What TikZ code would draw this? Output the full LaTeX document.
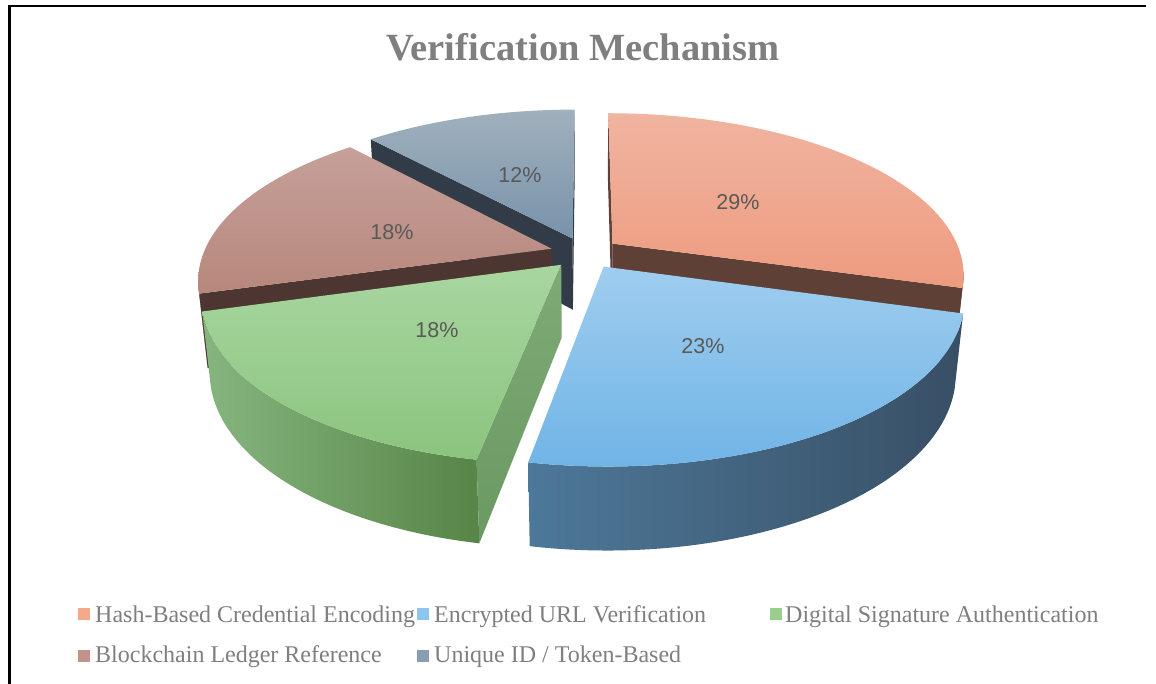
\documentclass[tikz,border=0pt]{standalone}
\usepackage{fontspec}
\setmainfont{Liberation Serif}
\newfontfamily\pctfont{Liberation Sans}
\usetikzlibrary{positioning}

\definecolor{titlegray}{HTML}{7F7F7F}
\definecolor{pctgray}{HTML}{595959}
\definecolor{orangetop}{HTML}{F0B4A0}
\definecolor{orangebot}{HTML}{EE9B7F}
\definecolor{orangeface}{HTML}{5F4036}
\definecolor{bluetop}{HTML}{9FCDEF}
\definecolor{bluebot}{HTML}{70B4E6}
\definecolor{blueleft}{HTML}{4D7899}
\definecolor{bluemid}{HTML}{34506A}
\definecolor{blueright}{HTML}{384F65}
\definecolor{greentop}{HTML}{A8D6A0}
\definecolor{greenbot}{HTML}{8BC47E}
\definecolor{greenleft}{HTML}{86B57F}
\definecolor{greenmid}{HTML}{6D9D63}
\definecolor{greenright}{HTML}{578547}
\definecolor{greenfacetop}{HTML}{7EAA76}
\definecolor{greenfacebot}{HTML}{6B9962}
\definecolor{browntop}{HTML}{C6A09A}
\definecolor{brownbot}{HTML}{B7877C}
\definecolor{brownface}{HTML}{4D3531}
\definecolor{greytop}{HTML}{A0B0BD}
\definecolor{greybot}{HTML}{7893AA}
\definecolor{greyface}{HTML}{313C48}
\definecolor{keyorange}{HTML}{F4A98C}
\definecolor{keyblue}{HTML}{8EC5EE}
\definecolor{keygreen}{HTML}{98CF8C}
\definecolor{keybrown}{HTML}{C3928A}
\definecolor{keygrey}{HTML}{8A9DB0}

\tikzset{
  pct/.style={font=\pctfont\fontsize{21.5}{24}\selectfont, text=pctgray},
  legtxt/.style={anchor=base west, inner sep=0pt, text=titlegray,
    font=\fontsize{24}{26}\selectfont},
  legbox/.style={minimum size=12pt, inner sep=0pt, draw=none}
}

% slice pieces: #1 = mid angle of the slice (explode direction)
\newcommand{\slicetop}[4]{%
  \path[#4] ({px(#1,0,0,0)},{py(#1,0,0,0)})
    -- plot[domain=#2:#3] ({px(#1,\x,1,0)},{py(#1,\x,1,0)}) -- cycle;}
\newcommand{\sliceside}[4]{%
  \path[#4] plot[domain=#2:#3] ({px(#1,\x,1,0)},{py(#1,\x,1,0)})
    -- plot[domain=#3:#2] ({px(#1,\x,1,-0.234)},{py(#1,\x,1,-0.234)}) -- cycle;}
\newcommand{\sliceface}[3]{%
  \path[#3] ({px(#1,0,0,0)},{py(#1,0,0,0)})
    -- ({px(#1,#2,1,0)},{py(#1,#2,1,0)})
    -- ({px(#1,#2,1,-0.234)},{py(#1,#2,1,-0.234)})
    -- ({px(#1,0,0,-0.234)},{py(#1,0,0,-0.234)}) -- cycle;}

\begin{document}
\begin{tikzpicture}[x=1pt,y=-1pt,samples=48,
  declare function={
    dep(\uu,\vv,\zz)=4.86+0.894*\vv-0.4475*\zz;
    sx(\uu,\vv,\zz)=585+1692*\uu/dep(\uu,\vv,\zz);
    sy(\uu,\vv,\zz)=253-1711*(0.4475*\vv+0.894*\zz)/dep(\uu,\vv,\zz);
    px(\mmid,\ang,\rr,\zz)=sx(0.1*sin(\mmid)+\rr*sin(\ang),0.1*cos(\mmid)+\rr*cos(\ang),\zz);
    py(\mmid,\ang,\rr,\zz)=sy(0.1*sin(\mmid)+\rr*sin(\ang),0.1*cos(\mmid)+\rr*cos(\ang),\zz);
  }]
\useasboundingbox (0,0) rectangle (1156,684);
\fill[white] (0,0) rectangle (1156,684);
\draw[line width=2.5pt] (9.5,684) -- (9.5,6) -- (1146,6);

\node[font=\bfseries\fontsize{38.5}{42}\selectfont, text=titlegray, anchor=base] (title) at (583,61) {Verification Mechanism};

% unique id slice (back)
\sliceface{338.82}{317.65}{fill=greyface}
\sliceface{338.82}{360}{fill=greyface}
\slicetop{338.82}{317.65}{360}{top color=greytop, bottom color=greybot}

% blockchain slice
\sliceside{285.88}{254.12}{258}{fill=brownface}
\sliceface{285.88}{254.12}{fill=brownface}
\slicetop{285.88}{254.12}{317.65}{top color=browntop, bottom color=brownbot}

% hash-based slice
\sliceface{52.94}{0}{fill=orangeface}
\sliceside{52.94}{100}{105.88}{fill=orangeface}
\sliceface{52.94}{105.88}{fill=orangeface}
\slicetop{52.94}{0}{105.88}{top color=orangetop, bottom color=orangebot}

% digital signature slice
\sliceside{222.35}{190.59}{254.12}{left color=greenleft, middle color=greenmid, right color=greenright}
\sliceface{222.35}{190.59}{top color=greenfacetop, bottom color=greenfacebot}
\slicetop{222.35}{190.59}{254.12}{top color=greentop, bottom color=greenbot}

% encrypted url slice (front)
\sliceside{148.24}{105.88}{190.59}{left color=blueleft, middle color=bluemid, right color=blueright}
\slicetop{148.24}{105.88}{190.59}{top color=bluetop, bottom color=bluebot}

% data labels
\node[pct] (pHash) at (738,202) {29\%};
\node[pct] (pUrl) at (703,346) {23\%};
\node[pct] (pSig) at (437,330) {18\%};
\node[pct] (pChain) at (392,232) {18\%};
\node[pct] (pToken) at (520,175) {12\%};

% legend
\node[legbox, fill=keyorange] (kHash) at (84,614) {};
\node[legtxt] (tHash) at (95,622) {Hash-Based Credential Encoding};
\node[legbox, fill=keyblue] (kUrl) at (423,614) {};
\node[legtxt] (tUrl) at (434,622) {Encrypted URL Verification};
\node[legbox, fill=keygreen] (kSig) at (776,614) {};
\node[legtxt] (tSig) at (785,622) {Digital Signature Authentication};
\node[legbox, fill=keybrown] (kChain) at (84,656) {};
\node[legtxt] (tChain) at (95,662) {Blockchain Ledger Reference};
\node[legbox, fill=keygrey] (kToken) at (423,656) {};
\node[legtxt] (tToken) at (434,662) {Unique ID / Token-Based};
\end{tikzpicture}
\end{document}
